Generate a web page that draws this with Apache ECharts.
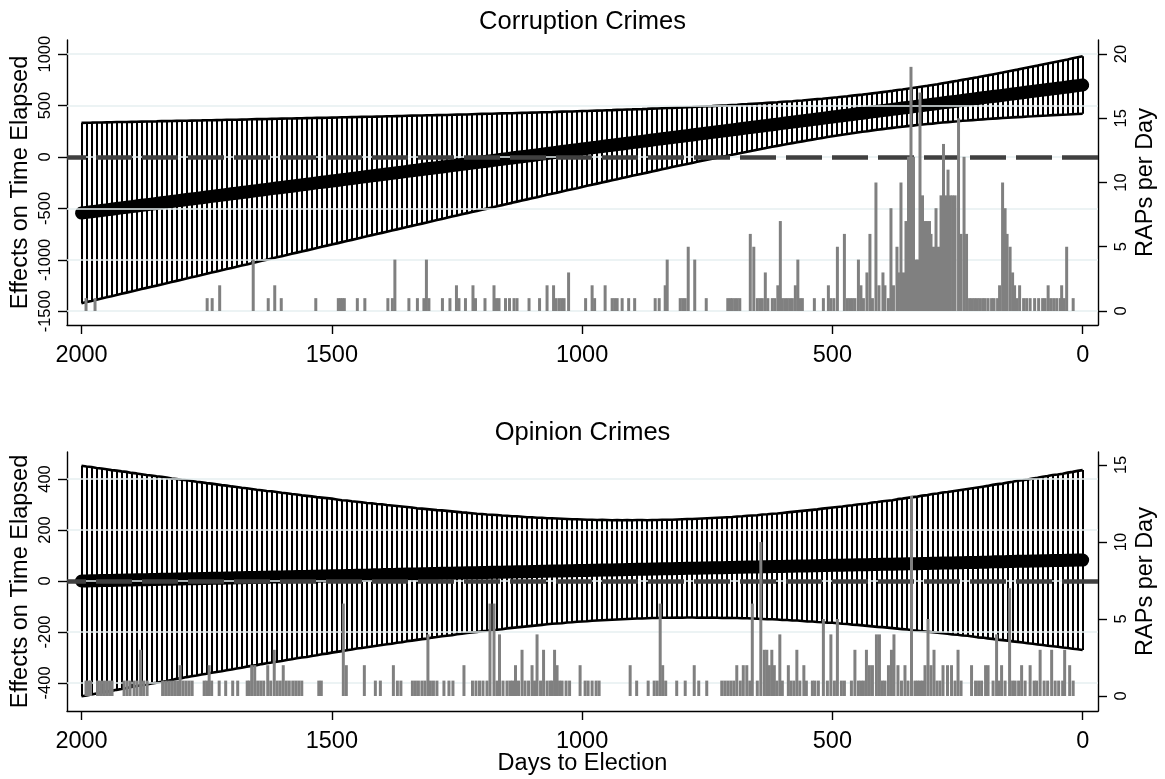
<!DOCTYPE html>
<html><head><meta charset="utf-8">
<script src="https://cdn.jsdelivr.net/npm/echarts@6/dist/echarts.min.js"></script>
<style>html,body{margin:0;padding:0;background:#fff}#c{width:1165px;height:779px}</style>
</head><body><div id="c"></div><script>
// ---- data ----
const panelTitles = ['Corruption Crimes', 'Opinion Crimes'];
const xTicks = [0, 500, 1000, 1500, 2000];
const corrLeftTicks = [-1500, -1000, -500, 0, 500, 1000];
const corrRightTicks = [0, 5, 10, 15, 20];
const opinLeftTicks = [-400, -200, 0, 200, 400];
const opinRightTicks = [0, 5, 10, 15];

const ciDays = [
0,10,20,30,40,50,60,70,80,90,
100,110,120,130,140,150,160,170,180,190,
200,210,220,230,240,250,260,270,280,290,
300,310,320,330,340,350,360,370,380,390,
400,410,420,430,440,450,460,470,480,490,
500,510,520,530,540,550,560,570,580,590,
600,610,620,630,640,650,660,670,680,690,
700,710,720,730,740,750,760,770,780,790,
800,810,820,830,840,850,860,870,880,890,
900,910,920,930,940,950,960,970,980,990,
1000,1010,1020,1030,1040,1050,1060,1070,1080,1090,
1100,1110,1120,1130,1140,1150,1160,1170,1180,1190,
1200,1210,1220,1230,1240,1250,1260,1270,1280,1290,
1300,1310,1320,1330,1340,1350,1360,1370,1380,1390,
1400,1410,1420,1430,1440,1450,1460,1470,1480,1490,
1500,1510,1520,1530,1540,1550,1560,1570,1580,1590,
1600,1610,1620,1630,1640,1650,1660,1670,1680,1690,
1700,1710,1720,1730,1740,1750,1760,1770,1780,1790,
1800,1810,1820,1830,1840,1850,1860,1870,1880,1890,
1900,1910,1920,1930,1940,1950,1960,1970,1980,1990,
2000];

const corrEst = [
700,694,688,681,675,669,663,656,650,644,
638,632,625,619,613,607,600,594,588,582,
576,569,563,557,551,544,538,532,526,519,
513,507,501,495,488,482,476,470,463,457,
451,445,439,432,426,420,414,407,401,395,
389,383,376,370,364,358,351,345,339,333,
327,320,314,308,302,295,289,283,277,270,
264,258,252,246,239,233,227,221,214,208,
202,196,190,183,177,171,165,158,152,146,
140,134,127,121,115,109,102,96,90,84,
78,71,65,59,53,46,40,34,28,21,
15,9,3,-3,-10,-16,-22,-28,-35,-41,
-47,-53,-59,-66,-72,-78,-84,-91,-97,-103,
-109,-115,-122,-128,-134,-140,-147,-153,-159,-165,
-172,-178,-184,-190,-196,-203,-209,-215,-221,-228,
-234,-240,-246,-252,-259,-265,-271,-277,-284,-290,
-296,-302,-308,-315,-321,-327,-333,-340,-346,-352,
-358,-364,-371,-377,-383,-389,-396,-402,-408,-414,
-421,-427,-433,-439,-445,-452,-458,-464,-470,-477,
-483,-489,-495,-501,-508,-514,-520,-526,-533,-539,
-545];

const corrHalf = [
280,276,272,268,264,260,256,253,249,245,
242,238,235,231,228,225,221,218,215,212,
210,207,204,202,199,197,195,193,191,189,
188,186,185,184,183,182,181,181,180,180,
180,180,180,181,181,182,183,184,185,186,
188,189,191,193,195,197,199,202,204,207,
210,212,215,218,221,225,228,231,235,238,
242,245,249,253,256,260,264,268,272,276,
280,284,288,293,297,301,306,310,314,319,
323,328,332,337,341,346,350,355,360,364,
369,374,378,383,388,393,397,402,407,412,
417,421,426,431,436,441,446,451,456,461,
466,471,475,480,485,490,495,500,505,510,
515,521,526,531,536,541,546,551,556,561,
566,571,576,581,586,592,597,602,607,612,
617,622,627,633,638,643,648,653,658,664,
669,674,679,684,689,695,700,705,710,715,
721,726,731,736,741,747,752,757,762,767,
773,778,783,788,794,799,804,809,814,820,
825,830,835,841,846,851,856,862,867,872,
877];

const opinEst = [
82,82,81,81,80,80,80,79,79,78,
78,77,77,77,76,76,75,75,75,74,
74,73,73,73,72,72,71,71,71,70,
70,69,69,68,68,68,67,67,66,66,
66,65,65,64,64,64,63,63,62,62,
62,61,61,60,60,59,59,59,58,58,
57,57,57,56,56,55,55,55,54,54,
53,53,52,52,52,51,51,50,50,50,
49,49,48,48,48,47,47,46,46,46,
45,45,44,44,43,43,43,42,42,41,
41,41,40,40,39,39,39,38,38,37,
37,36,36,36,35,35,34,34,34,33,
33,32,32,32,31,31,30,30,30,29,
29,28,28,27,27,27,26,26,25,25,
25,24,24,23,23,23,22,22,21,21,
21,20,20,19,19,18,18,18,17,17,
16,16,16,15,15,14,14,14,13,13,
12,12,11,11,11,10,10,9,9,9,
8,8,7,7,7,6,6,5,5,5,
4,4,3,3,2,2,2,1,1,0,
0];

const opinHalf = [
353,350,347,344,341,338,336,333,330,327,
324,321,318,316,313,310,307,305,302,299,
296,294,291,288,286,283,281,278,276,273,
271,268,266,263,261,258,256,254,251,249,
247,245,243,240,238,236,234,232,230,228,
226,225,223,221,219,218,216,214,213,211,
210,208,207,206,205,203,202,201,200,199,
198,197,197,196,195,195,194,194,193,193,
193,192,192,192,192,192,192,192,193,193,
193,194,194,195,195,196,197,197,198,199,
200,201,202,203,205,206,207,208,210,211,
213,214,216,218,219,221,223,225,226,228,
230,232,234,236,238,240,243,245,247,249,
251,254,256,258,261,263,266,268,271,273,
276,278,281,283,286,288,291,294,296,299,
302,305,307,310,313,316,318,321,324,327,
330,333,336,338,341,344,347,350,353,356,
359,362,365,368,371,374,377,380,383,386,
389,392,395,399,402,405,408,411,414,417,
420,424,427,430,433,436,439,442,446,449,
452];

const corrBarDays = [
1991,1973,1749,1739,1724,1657,1627,1614,1601,1532,
1487,1483,1479,1475,1449,1434,1388,1379,1374,1346,
1329,1316,1311,1306,1279,1264,1251,1246,1233,1218,
1213,1194,1176,1171,1166,1153,1145,1136,1130,1106,
1085,1070,1057,1052,1046,1041,1036,1027,993,980,
975,954,940,935,930,920,907,895,854,846,
834,830,804,799,794,788,775,752,709,704,
700,695,690,685,664,657,650,645,640,634,
629,620,615,609,604,600,595,590,585,580,
574,569,565,560,536,518,508,503,497,490,
476,470,465,460,455,448,443,438,431,425,
420,413,407,399,395,388,383,378,371,368,
363,358,353,348,343,338,333,329,325,320,
315,311,306,303,298,293,288,283,278,274,
269,265,260,255,248,243,237,232,226,221,
216,211,206,200,195,189,182,177,170,166,
160,155,151,145,140,136,131,126,118,112,
105,96,88,80,75,69,64,58,52,45,
42,37,32,19];
const corrBarCounts = [
1,1,1,1,2,4,1,2,1,1,
1,1,1,1,1,1,1,1,4,1,
1,1,4,1,1,1,2,1,1,2,
1,1,2,1,1,1,1,1,1,1,
1,2,2,1,1,1,1,3,1,2,
1,2,1,1,1,1,1,1,1,1,
2,4,1,1,1,5,4,1,1,1,
1,1,1,1,6,5,1,1,1,3,
1,1,1,2,7,1,1,1,1,1,
2,4,1,1,1,1,2,1,1,5,
6,1,1,1,1,4,2,1,3,6,
1,10,2,3,2,1,8,2,5,3,
10,3,7,12,19,12,4,4,17,9,
7,7,7,6,5,8,5,9,13,9,
11,9,9,9,15,6,12,6,1,1,
1,1,1,1,1,1,1,1,1,2,
10,8,6,5,3,2,1,2,1,1,
1,1,1,1,1,2,1,1,1,1,
2,1,5,1];

const opinBarDays = [
1991,1986,1982,1968,1962,1956,1950,1944,1939,1915,
1909,1903,1895,1889,1882,1876,1869,1838,1832,1826,
1820,1814,1808,1803,1797,1791,1785,1779,1755,1750,
1745,1740,1725,1712,1698,1688,1669,1665,1660,1654,
1648,1642,1636,1628,1622,1615,1609,1603,1597,1591,
1585,1578,1572,1566,1560,1526,1521,1477,1471,1435,
1413,1403,1377,1369,1362,1339,1333,1327,1320,1314,
1308,1303,1297,1290,1276,1266,1258,1236,1219,1212,
1205,1198,1190,1184,1176,1170,1165,1158,1150,1144,
1139,1133,1127,1120,1114,1107,1100,1095,1090,1083,
1077,1070,1064,1060,1055,1050,1045,1040,1032,1025,
1004,994,988,980,972,966,904,891,868,856,
850,844,839,833,811,794,776,767,751,721,
715,709,703,697,691,684,678,671,665,660,
650,643,636,631,626,621,616,611,605,600,
588,583,577,571,565,557,552,540,535,528,
518,510,503,496,490,482,476,462,455,448,
443,438,432,426,420,412,406,400,395,388,
382,377,369,362,355,349,342,335,330,325,
320,315,309,303,297,291,285,279,270,262,
255,249,243,222,214,208,202,194,189,179,
172,167,162,155,146,140,135,128,122,115,
105,97,92,85,77,70,62,55,48,40,
36,26,19];
const opinBarCounts = [
1,1,1,1,1,1,1,1,1,1,
1,1,1,1,3,1,1,1,1,1,
1,1,1,2,1,1,1,1,1,1,
2,1,1,1,1,1,1,1,2,2,
1,1,1,2,1,3,1,1,2,1,
1,1,1,1,1,1,1,6,2,2,
1,1,2,1,1,1,1,1,1,1,
4,1,1,1,1,1,1,2,1,1,
1,1,1,6,6,1,4,1,1,1,
1,2,1,3,1,1,2,1,4,1,
3,1,1,1,3,2,1,1,1,1,
2,1,1,1,1,1,2,1,1,1,
1,6,2,1,1,1,2,1,1,1,
1,1,1,1,2,1,2,2,1,6,
1,10,3,3,2,3,2,1,4,1,
2,1,1,3,1,2,1,1,1,1,
5,1,4,1,5,1,1,1,3,1,
1,1,3,2,2,4,4,1,1,2,
3,4,2,1,2,1,13,1,1,1,
1,2,5,2,3,1,1,2,2,2,
1,3,1,2,1,1,1,2,2,1,
4,1,2,1,7,1,1,1,2,1,
2,1,1,3,1,1,3,1,1,1,
3,2,1];

// ---- build ----
const FONT = 'Liberation Sans';
function ciRows(est, half) { return ciDays.map((d, i) => [d, est[i] - half[i], est[i] + half[i]]); }
function pairs(xs, ys) { return xs.map((x, i) => [x, ys[i]]); }
const plain = v => String(v);

const panels = [
  { est: corrEst, half: corrHalf, bd: corrBarDays, bc: corrBarCounts, lt: corrLeftTicks, rt: corrRightTicks,
    top: 40, height: 285, lmin: -1634, lmax: 1138, rmin: -1.09, rmax: 21.09 },
  { est: opinEst, half: opinHalf, bd: opinBarDays, bc: opinBarCounts, lt: opinLeftTicks, rt: opinRightTicks,
    top: 452, height: 259, lmin: -510, lmax: 506, rmin: -0.974, rmax: 15.84 }
];

const grids = [], xAxes = [], yAxes = [], series = [];
panels.forEach((p, k) => {
  grids.push({ left: 67, right: 67, top: p.top, height: p.height, containLabel: false, outerBoundsMode: 'none' });
  xAxes.push({
    type: 'value', gridIndex: k, inverse: true, min: -30.6, max: 2029,
    axisLine: { show: true, onZero: false, lineStyle: { color: '#000', width: 1.4 } },
    axisTick: { show: true, customValues: xTicks, length: 9, lineStyle: { color: '#000', width: 1.4 } },
    axisLabel: { customValues: xTicks, formatter: plain, fontFamily: FONT, fontSize: 23.5, color: '#000', margin: 19 },
    splitLine: { show: false },
    name: k === 1 ? 'Days to Election' : '', nameLocation: 'middle', nameGap: 41, nameMoveOverlap: false,
    nameTextStyle: { fontFamily: FONT, fontSize: 23.5, color: '#000' }
  });
  yAxes.push({
    type: 'value', gridIndex: k, position: 'left', min: p.lmin, max: p.lmax,
    axisLine: { show: true, onZero: false, lineStyle: { color: '#000', width: 1.4 } },
    axisTick: { show: true, customValues: p.lt, length: 9, lineStyle: { color: '#000', width: 1.4 } },
    axisLabel: { customValues: p.lt, formatter: plain, rotate: 90, fontFamily: FONT, fontSize: 16.5, color: '#000', margin: 13 },
    splitLine: { show: false },
    name: 'Effects on Time Elapsed', nameLocation: 'middle', nameGap: 34, nameMoveOverlap: false,
    nameTextStyle: { fontFamily: FONT, fontSize: 23.5, color: '#000' }
  });
  yAxes.push({
    type: 'value', gridIndex: k, position: 'right', min: p.rmin, max: p.rmax,
    axisLine: { show: true, onZero: false, lineStyle: { color: '#000', width: 1.4 } },
    axisTick: { show: true, customValues: p.rt, length: 9, lineStyle: { color: '#000', width: 1.4 } },
    axisLabel: { customValues: p.rt, formatter: plain, rotate: 90, fontFamily: FONT, fontSize: 16.5, color: '#000', margin: 15 },
    splitLine: { show: false },
    name: 'RAPs per Day', nameLocation: 'middle', nameGap: 36, nameMoveOverlap: false,
    nameTextStyle: { fontFamily: FONT, fontSize: 23.5, color: '#000' }
  });
  const ly = 2 * k, ry = 2 * k + 1;
  const rows = ciRows(p.est, p.half);
  // grid lines
  series.push({
    type: 'line', xAxisIndex: k, yAxisIndex: ly, data: [], z: 1, silent: true,
    markLine: { silent: true, symbol: ['none', 'none'], label: { show: false }, animation: false,
      lineStyle: { color: '#e6eff1', width: 1.6, type: 'solid' },
      data: p.lt.map(v => ({ yAxis: v })) }
  });
  // zero dashed line
  series.push({
    type: 'line', xAxisIndex: k, yAxisIndex: ly, data: [], z: 2, silent: true,
    markLine: { silent: true, symbol: ['none', 'none'], label: { show: false }, animation: false,
      lineStyle: { color: '#404040', width: 4.5, type: [36, 10] },
      data: [{ yAxis: 0 }] }
  });
  // CI spikes
  series.push({
    type: 'custom', xAxisIndex: k, yAxisIndex: ly, z: 3, silent: true,
    data: rows, encode: { x: 0, y: [1, 2] },
    renderItem: function (params, api) {
      const a = api.coord([api.value(0), api.value(1)]);
      const b = api.coord([api.value(0), api.value(2)]);
      const x = Math.round(a[0]);
      return { type: 'line', shape: { x1: x, y1: a[1], x2: x, y2: b[1] },
        style: { stroke: '#000', lineWidth: 2 } };
    }
  });
  // CI bounds
  series.push({ type: 'line', xAxisIndex: k, yAxisIndex: ly, z: 3, silent: true, symbol: 'none',
    data: rows.map(r => [r[0], r[1]]), lineStyle: { color: '#000', width: 2.6 } });
  series.push({ type: 'line', xAxisIndex: k, yAxisIndex: ly, z: 3, silent: true, symbol: 'none',
    data: rows.map(r => [r[0], r[2]]), lineStyle: { color: '#000', width: 2.6 } });
  // estimate
  series.push({ type: 'line', xAxisIndex: k, yAxisIndex: ly, z: 4, silent: true, symbol: 'none',
    data: pairs(ciDays, p.est), lineStyle: { color: '#000', width: 13, cap: 'round', join: 'round' } });
  // RAP bars (custom rects through the axis scales)
  series.push({
    type: 'custom', xAxisIndex: k, yAxisIndex: ry, z: 5, silent: true,
    data: pairs(p.bd, p.bc), encode: { x: 0, y: 1 },
    renderItem: function (params, api) {
      const top = api.coord([api.value(0), api.value(1)]);
      const base = api.coord([api.value(0), 0]);
      const w = 3;
      return { type: 'rect', shape: { x: top[0] - w / 2, y: top[1], width: w, height: base[1] - top[1] },
        style: { fill: '#808080' } };
    }
  });
});

const option = {
  animation: false,
  backgroundColor: '#fff',
  title: [
    { text: panelTitles[0], left: 'center', top: 4, textStyle: { fontFamily: FONT, fontSize: 25.5, fontWeight: 'normal', color: '#000' } },
    { text: panelTitles[1], left: 'center', top: 415, textStyle: { fontFamily: FONT, fontSize: 25.5, fontWeight: 'normal', color: '#000' } }
  ],
  grid: grids, xAxis: xAxes, yAxis: yAxes, series: series
};
const chart = echarts.init(document.getElementById('c'), null, { renderer: 'canvas' });
chart.setOption(option);
</script></body></html>
